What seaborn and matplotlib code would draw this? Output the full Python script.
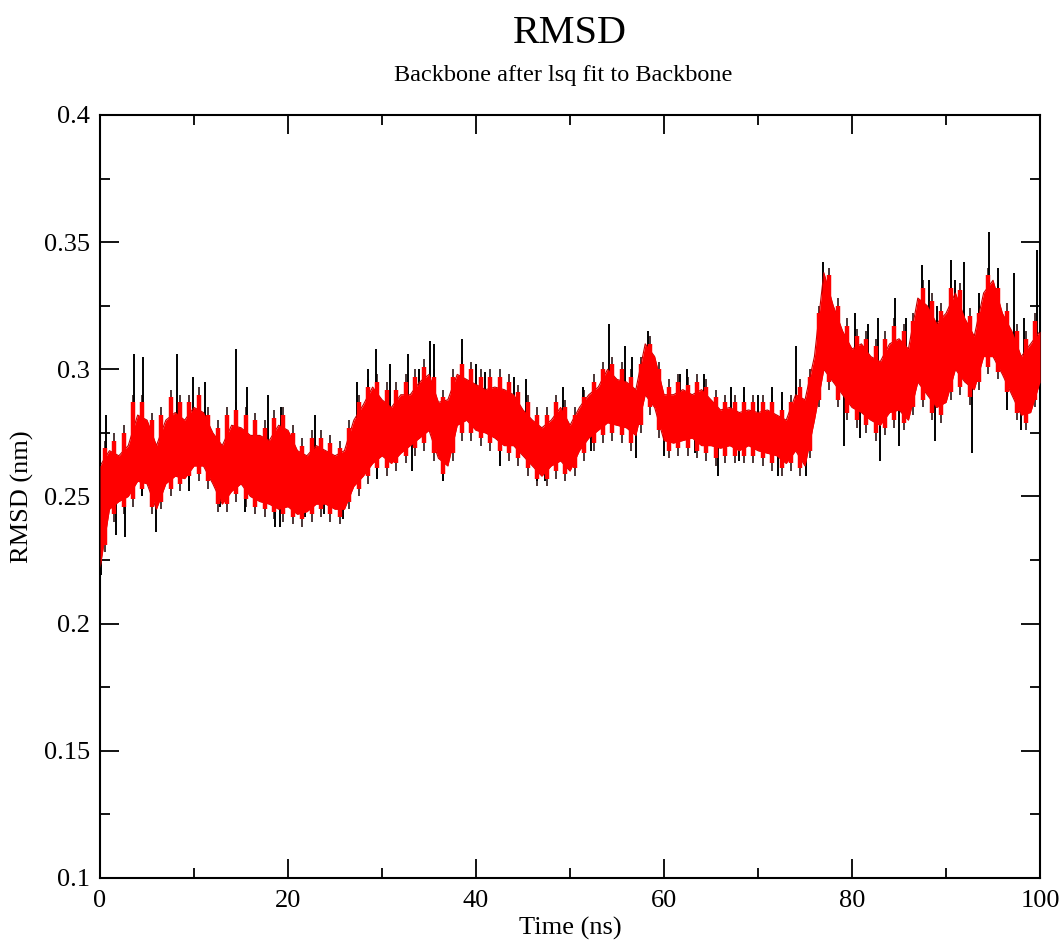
import numpy as np
import pandas as pd
import matplotlib
matplotlib.use("Agg")
import matplotlib.pyplot as plt
from matplotlib.ticker import MultipleLocator
import seaborn as sns

# ---- data (RMSD in nm, time in ns) ----
time_ns = list(range(0, 101))
band_top = [0.262, 0.268, 0.266, 0.270, 0.282, 0.280, 0.270, 0.280, 0.283, 0.280,
            0.285, 0.283, 0.275, 0.270, 0.278, 0.277, 0.274, 0.274, 0.272, 0.278,
            0.276, 0.268, 0.266, 0.270, 0.268, 0.266, 0.268, 0.280, 0.286, 0.293,
            0.288, 0.285, 0.290, 0.290, 0.295, 0.298, 0.287, 0.288, 0.298, 0.296,
            0.294, 0.292, 0.293, 0.292, 0.290, 0.284, 0.280, 0.277, 0.280, 0.285,
            0.278, 0.285, 0.290, 0.293, 0.300, 0.296, 0.295, 0.292, 0.310, 0.305,
            0.290, 0.290, 0.292, 0.290, 0.292, 0.288, 0.284, 0.285, 0.283, 0.284,
            0.283, 0.284, 0.282, 0.280, 0.290, 0.288, 0.305, 0.338, 0.325, 0.315,
            0.308, 0.310, 0.305, 0.303, 0.310, 0.312, 0.308, 0.328, 0.325, 0.318,
            0.322, 0.330, 0.320, 0.313, 0.330, 0.335, 0.322, 0.315, 0.305, 0.310,
            0.315]
band_bot = [0.222, 0.245, 0.248, 0.250, 0.256, 0.255, 0.245, 0.255, 0.258, 0.257,
            0.262, 0.262, 0.255, 0.247, 0.252, 0.255, 0.250, 0.248, 0.247, 0.245,
            0.246, 0.243, 0.244, 0.247, 0.247, 0.245, 0.245, 0.254, 0.258, 0.263,
            0.266, 0.263, 0.267, 0.270, 0.273, 0.276, 0.265, 0.262, 0.278, 0.280,
            0.276, 0.275, 0.273, 0.270, 0.270, 0.266, 0.262, 0.258, 0.262, 0.264,
            0.260, 0.268, 0.273, 0.276, 0.279, 0.278, 0.277, 0.274, 0.290, 0.285,
            0.272, 0.271, 0.272, 0.273, 0.270, 0.270, 0.269, 0.270, 0.268, 0.270,
            0.268, 0.267, 0.266, 0.263, 0.268, 0.262, 0.280, 0.300, 0.295, 0.290,
            0.285, 0.283, 0.280, 0.278, 0.283, 0.284, 0.280, 0.295, 0.290, 0.285,
            0.287, 0.300, 0.295, 0.292, 0.305, 0.305, 0.298, 0.290, 0.282, 0.283,
            0.295]

# short fluctuation extremes at half-ns times (0.5, 1.5, ... 99.5)
half_ns = [t + 0.5 for t in range(0, 100)]
minor_up = [0.272, 0.275, 0.278, 0.290, 0.290, 0.283, 0.285, 0.292, 0.290, 0.290,
            0.293, 0.285, 0.280, 0.285, 0.287, 0.285, 0.283, 0.280, 0.284, 0.285,
            0.278, 0.273, 0.276, 0.276, 0.274, 0.272, 0.280, 0.290, 0.296, 0.298,
            0.295, 0.295, 0.298, 0.300, 0.304, 0.300, 0.292, 0.300, 0.305, 0.303,
            0.300, 0.300, 0.300, 0.298, 0.294, 0.290, 0.285, 0.285, 0.290, 0.288,
            0.285, 0.292, 0.298, 0.303, 0.305, 0.303, 0.300, 0.305, 0.313, 0.303,
            0.296, 0.298, 0.297, 0.298, 0.296, 0.292, 0.290, 0.290, 0.290, 0.290,
            0.290, 0.290, 0.287, 0.290, 0.296, 0.300, 0.325, 0.340, 0.328, 0.320,
            0.316, 0.315, 0.312, 0.315, 0.320, 0.318, 0.322, 0.335, 0.330, 0.326,
            0.335, 0.334, 0.324, 0.325, 0.340, 0.335, 0.326, 0.318, 0.315, 0.322]
minor_dn = [0.228, 0.240, 0.243, 0.246, 0.250, 0.243, 0.245, 0.250, 0.252, 0.255,
            0.256, 0.253, 0.244, 0.244, 0.248, 0.246, 0.243, 0.242, 0.241, 0.240,
            0.239, 0.238, 0.240, 0.242, 0.240, 0.239, 0.245, 0.250, 0.255, 0.258,
            0.258, 0.260, 0.263, 0.266, 0.268, 0.264, 0.256, 0.264, 0.272, 0.272,
            0.270, 0.268, 0.265, 0.264, 0.262, 0.258, 0.254, 0.254, 0.257, 0.256,
            0.258, 0.264, 0.268, 0.271, 0.272, 0.271, 0.268, 0.275, 0.282, 0.273,
            0.265, 0.266, 0.266, 0.265, 0.264, 0.262, 0.263, 0.263, 0.263, 0.263,
            0.262, 0.260, 0.258, 0.260, 0.258, 0.265, 0.285, 0.292, 0.285, 0.280,
            0.277, 0.275, 0.272, 0.274, 0.277, 0.276, 0.282, 0.285, 0.280, 0.279,
            0.288, 0.290, 0.286, 0.292, 0.298, 0.296, 0.288, 0.280, 0.276, 0.285]

spike_up_t = [0.6, 3.6, 4.6, 6.6, 8.2, 9.9, 11.2, 14.5, 15.6, 17.9, 19.3, 22.9,
              27.3, 28.5, 29.4, 30.9, 32.8, 33.9, 35.1, 35.5, 38.5, 40.0, 41.0,
              44.0, 45.3, 49.2, 51.4, 53.4, 54.1, 55.9, 56.6, 58.3, 61.7, 62.4,
              64.3, 67.1, 68.5, 70.0, 71.5, 72.5, 74.0, 76.9, 77.4, 80.3, 81.7,
              82.8, 84.6, 85.7, 87.4, 88.2, 89.0, 90.5, 91.0, 91.9, 93.5, 94.6,
              95.5, 97.2, 98.3, 99.7]
spike_up_v = [0.282, 0.306, 0.305, 0.280, 0.306, 0.297, 0.295, 0.308, 0.293, 0.290,
              0.285, 0.282, 0.295, 0.300, 0.308, 0.302, 0.306, 0.300, 0.311, 0.310,
              0.312, 0.302, 0.299, 0.297, 0.296, 0.293, 0.293, 0.299, 0.318, 0.309,
              0.305, 0.315, 0.298, 0.300, 0.298, 0.293, 0.293, 0.290, 0.293, 0.291,
              0.309, 0.342, 0.335, 0.322, 0.318, 0.320, 0.328, 0.320, 0.341, 0.335,
              0.325, 0.343, 0.335, 0.342, 0.330, 0.354, 0.340, 0.338, 0.320, 0.347]
spike_dn_t = [0.1, 1.7, 2.7, 4.5, 6.0, 9.5, 12.8, 15.4, 18.6, 19.1, 21.8, 23.8,
              25.9, 29.5, 33.2, 36.5, 42.6, 46.5, 47.3, 52.2, 57.0, 60.0, 63.3,
              65.7, 68.0, 72.1, 75.1, 79.1, 80.9, 83.0, 85.0, 88.8, 92.8, 96.5, 98.0]
spike_dn_v = [0.219, 0.235, 0.234, 0.250, 0.236, 0.252, 0.246, 0.244, 0.238, 0.238,
              0.242, 0.243, 0.241, 0.257, 0.260, 0.256, 0.262, 0.256, 0.256, 0.268,
              0.265, 0.266, 0.267, 0.258, 0.264, 0.258, 0.258, 0.270, 0.273, 0.264,
              0.270, 0.272, 0.267, 0.284, 0.276]

xticks = [0, 20, 40, 60, 80, 100]
yticks = [0.1, 0.15, 0.2, 0.25, 0.3, 0.35, 0.4]
ytick_labels = ["0.1", "0.15", "0.2", "0.25", "0.3", "0.35", "0.4"]

# ---- drawing ----
sns.set_style("ticks")
plt.rcParams["font.family"] = ["Liberation Serif", "DejaVu Serif"]
plt.rcParams["text.color"] = "black"
plt.rcParams["axes.labelcolor"] = "black"
plt.rcParams["xtick.color"] = "black"
plt.rcParams["ytick.color"] = "black"

fig = plt.figure(figsize=(10.62, 9.47), dpi=100)
ax = fig.add_axes([0.0942, 0.0729, 0.8851, 0.8057])

band = pd.DataFrame({"t": time_ns, "top": band_top, "bot": band_bot})
mid = (np.array(band_top) + np.array(band_bot)) / 2

# fine fluctuations (dark fringe)
ax.vlines(half_ns, minor_dn, minor_up, color="#1a0000", lw=1.1, zorder=2)

# large spikes
up_base = np.interp(spike_up_t, time_ns, mid)
dn_base = np.interp(spike_dn_t, time_ns, mid)
ax.vlines(spike_up_t, up_base, spike_up_v, color="black", lw=1.4, zorder=2)
ax.vlines(spike_dn_t, dn_base, spike_dn_v, color="black", lw=1.4, zorder=2)

# red core band
ax.fill_between(band["t"], band["bot"], band["top"], color="#ff0000",
                lw=0, zorder=3)
# jagged red edge: red bars reaching most of the way into the fringe
ax.vlines(half_ns, np.array(minor_dn) + 0.003, np.array(minor_up) - 0.003,
          color="#ff0000", lw=3.2, zorder=3)
sns.lineplot(data=band, x="t", y="top", ax=ax, color="#c00000", lw=0.8,
             zorder=2.5)
sns.lineplot(data=band, x="t", y="bot", ax=ax, color="#c00000", lw=0.8,
             zorder=2.5)

ax.set_xlim(0, 100)
ax.set_ylim(0.1, 0.4)
ax.set_xticks(xticks)
ax.set_yticks(yticks)
ax.set_yticklabels(ytick_labels)
ax.xaxis.set_minor_locator(MultipleLocator(10))
ax.yaxis.set_minor_locator(MultipleLocator(0.025))
ax.tick_params(which="both", direction="in", top=True, right=True,
               width=1.3, colors="black", labelsize=19)
ax.tick_params(which="major", length=13.5)
ax.tick_params(which="minor", length=7)
ax.tick_params(axis="x", pad=9)
ax.tick_params(axis="y", pad=7)
for s in ax.spines.values():
    s.set_linewidth(1.5)
    s.set_color("black")

ax.set_xlabel("Time (ns)", fontsize=19, labelpad=3)
ax.set_ylabel("RMSD (nm)", fontsize=19, labelpad=7)

fig.text(0.537, 0.965, "RMSD", ha="center", va="center", fontsize=29)
fig.text(0.530, 0.920, "Backbone after lsq fit to Backbone", ha="center",
         va="center", fontsize=17.5)

fig.savefig("out.png", dpi=100)
